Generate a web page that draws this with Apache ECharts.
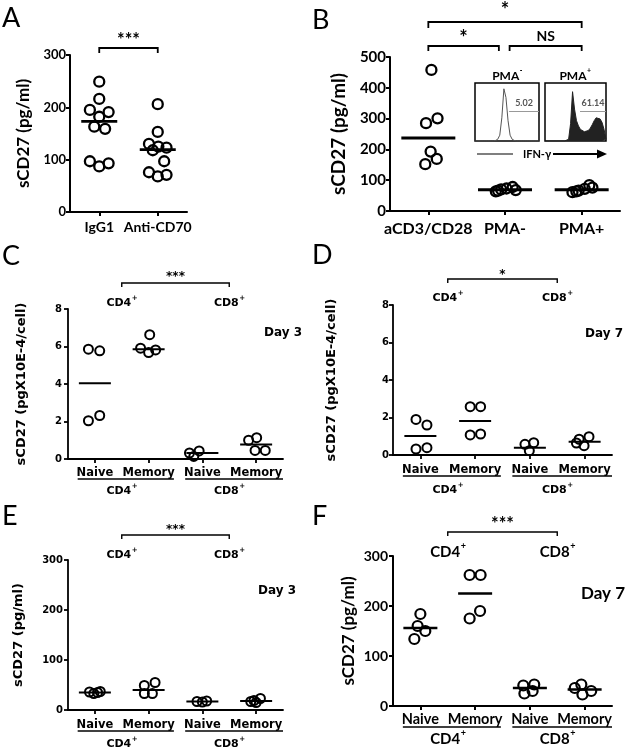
<!DOCTYPE html>
<html><head><meta charset="utf-8">
<script src="https://cdn.jsdelivr.net/npm/echarts@6/dist/echarts.min.js"></script>
<style>html,body{margin:0;padding:0;background:#fff}#c{width:625px;height:750px}</style>
</head><body><div id="c"></div><script>
// ================= DATA =================
// Panel A
const aCategories = ['IgG1', 'Anti-CD70'];
const aIgG1 = [249, 216, 195, 191, 182, 163, 159, 97, 87, 93];
const aAntiCD70 = [206, 153, 130, 118, 125, 123, 97, 76, 68, 71];
const aMeans = [173, 119];
const aYTicks = [0, 100, 200, 300];
const aJitter = [[0, 0, -0.16, 0.16, 0, -0.085, 0.1, -0.16, 0, 0.16],
                 [0, 0, -0.15, -0.085, 0.01, 0.15, 0.11, -0.15, 0, 0.15]];
// Panel B
const bCategories = ['aCD3/CD28', 'PMA-', 'PMA+'];
const bCD3CD28 = [458, 301, 285, 193, 152, 169];
const bPMAminus = [64, 70, 73, 78, 68, 66];
const bPMAplus = [61, 66, 72, 84, 76, 64];
const bMeans = [237, 69, 69];
const bYTicks = [0, 100, 200, 300, 400, 500];
const bJitter = [[0.04, 0.12, -0.03, 0.03, -0.04, 0.11],
                 [-0.12, -0.05, 0.02, 0.1, 0.14, -0.09],
                 [-0.12, -0.04, 0.04, 0.1, 0.14, -0.07]];
// Inset histograms (IFN-gamma), relative counts per bin
const histPMAminus = [0,0,0,0,0,0,0,0,0,0,1,3,10,40,90,75,35,10,3,1,0,0,0,0,0,0,0,0,0,0,0,0];
const histPMAplus  = [0,0,0,0,0,0,0,0,0,0,0,0,3,30,85,55,35,26,20,17,16,16,18,22,28,35,40,42,38,32,20,3];
const gatePMAminus = '5.02';
const gatePMAplus = '61.14';
// Shared categories for C-F
const cellCategories = ['Naive', 'Memory', 'Naive', 'Memory'];
const cellGroups = ['CD4', 'CD8'];
// Panel C (Day 3, pgX10E-4/cell)
const cNaiveCD4 = [5.86, 5.77, 2.04, 2.32];
const cMemoryCD4 = [6.63, 5.91, 5.68, 5.82];
const cNaiveCD8 = [0.32, 0.43, 0.14];
const cMemoryCD8 = [1.0, 1.14, 0.46, 0.46];
const cMeans = [4.04, 5.86, 0.32, 0.77];
const cYTicks = [0, 2, 4, 6, 8];
const cJitter = [[-0.12, 0.09, -0.12, 0.09], [0.02, -0.15, 0, 0.13], [-0.24, -0.06, -0.16], [-0.14, 0.01, -0.02, 0.17]];
// Panel D (Day 7, pgX10E-4/cell)
const dNaiveCD4 = [1.90, 1.60, 0.32, 0.39];
const dMemoryCD4 = [2.58, 2.58, 1.07, 1.12];
const dNaiveCD8 = [0.57, 0.66, 0.23];
const dMemoryCD8 = [0.84, 0.98, 0.5, 0.64];
const dMeans = [1.01, 1.81, 0.39, 0.71];
const dYTicks = [0, 2, 4, 6, 8];
const dJitter = [[-0.08, 0.12, -0.08, 0.12], [-0.09, 0.1, -0.09, 0.1], [-0.09, 0.07, -0.01], [-0.1, 0.08, -0.01, -0.15]];
// Panel E (Day 3, pg/ml)
const eNaiveCD4 = [36, 33, 35, 37];
const eMemoryCD4 = [49, 55, 33, 33];
const eNaiveCD8 = [17, 16, 18];
const eMemoryCD8 = [17, 23, 15, 19];
const eMeans = [35, 40, 17, 18];
const eYTicks = [0, 100, 200, 300];
const eJitter = [[-0.1, -0.02, 0.05, 0.1], [-0.08, 0.12, -0.08, 0.07], [-0.1, 0, 0.08], [-0.1, 0.08, 0, -0.04]];
// Panel F (Day 7, pg/ml)
const fNaiveCD4 = [184, 160, 150, 134];
const fMemoryCD4 = [262, 262, 175, 190];
const fNaiveCD8 = [41, 43, 25, 30];
const fMemoryCD8 = [43, 30, 23, 36];
const fMeans = [156, 225, 36, 33];
const fYTicks = [0, 100, 200, 300];
const fJitter = [[0, -0.05, 0.09, -0.11], [-0.1, 0.1, -0.1, 0.09], [-0.12, 0.08, -0.1, 0.05], [-0.06, 0.12, -0.04, -0.18]];

// ================= STYLE / LAYOUT =================
const FC = 'Lato, "Open Sans", sans-serif';
const FM = '"DejaVu Sans", sans-serif';
const LAYOUT = [
  {left: 70, top: 55, width: 117, height: 157},
  {left: 390, top: 57, width: 230, height: 154},
  {left: 68, top: 309, width: 215, height: 150},
  {left: 393, top: 305, width: 219, height: 150},
  {left: 68, top: 560, width: 215, height: 150},
  {left: 393, top: 556, width: 219, height: 150}
];
const option = {animation: false, backgroundColor: '#fff', grid: [], xAxis: [], yAxis: [], series: []};

function addPanel(gi, cfg) {
  const n = cfg.cats.length;
  const idx = cfg.cats.map((_, k) => k);
  option.grid.push(Object.assign({}, LAYOUT[gi]));
  option.xAxis.push({
    gridIndex: gi, type: 'value', min: -0.5, max: n - 0.5,
    splitLine: {show: false},
    axisLine: {show: true, onZero: false, lineStyle: {color: '#000', width: cfg.axisW}},
    axisTick: {show: true, customValues: idx, length: 4, lineStyle: {color: '#000', width: cfg.axisW}},
    axisLabel: {show: true, customValues: idx, formatter: v => cfg.cats[Math.round(v)],
      margin: cfg.xMargin, color: '#000', fontFamily: cfg.font, fontWeight: 'bold', fontSize: cfg.xFont}
  });
  const yt = cfg.yTicks;
  option.yAxis.push({
    gridIndex: gi, type: 'value', min: yt[0], max: yt[yt.length - 1], interval: yt[1] - yt[0],
    splitLine: {show: false},
    axisLine: {show: true, onZero: false, lineStyle: {color: '#000', width: cfg.axisW}},
    axisTick: {show: true, length: 4, lineStyle: {color: '#000', width: cfg.axisW}},
    axisLabel: {margin: cfg.yMargin, color: '#000', fontFamily: cfg.font, fontWeight: 'bold', fontSize: cfg.yFont},
    name: cfg.yName, nameLocation: 'middle', nameGap: cfg.nameGap, nameRotate: 90,
    nameTextStyle: {color: '#000', fontFamily: cfg.font, fontWeight: 'bold', fontSize: cfg.nameFont}
  });
  const pts = [];
  cfg.groups.forEach((vals, k) => vals.forEach((v, j) => pts.push([k + cfg.jitter[k][j], v])));
  option.series.push({
    type: 'scatter', xAxisIndex: gi, yAxisIndex: gi, data: pts, symbol: 'circle', symbolSize: cfg.sym,
    itemStyle: {color: 'rgba(0,0,0,0)', borderColor: '#000', borderWidth: cfg.symW, opacity: 1}, z: 3, silent: true
  });
  const hw = cfg.meanHalf, lw = cfg.meanW;
  option.series.push({
    type: 'custom', xAxisIndex: gi, yAxisIndex: gi, data: cfg.means.map((m, k) => [k, m]), z: 4, silent: true,
    renderItem: (params, api) => {
      const c = api.coord([api.value(0), api.value(1)]);
      return {type: 'line', shape: {x1: c[0] - hw, y1: c[1], x2: c[0] + hw, y2: c[1]}, style: {stroke: '#000', lineWidth: lw}};
    }
  });
}

addPanel(0, {cats: aCategories, groups: [aIgG1, aAntiCD70], jitter: aJitter, means: aMeans, yTicks: aYTicks,
  font: FC, axisW: 2, xMargin: 8, xFont: 14, yMargin: 4, yFont: 13, yName: 'sCD27 (pg/ml)', nameGap: 38, nameFont: 17,
  sym: 10, symW: 2.3, meanHalf: 18, meanW: 2.7});
addPanel(1, {cats: bCategories, groups: [bCD3CD28, bPMAminus, bPMAplus], jitter: bJitter, means: bMeans, yTicks: bYTicks,
  font: FC, axisW: 2, xMargin: 10, xFont: 16, yMargin: 4, yFont: 15, yName: 'sCD27 (pg/ml)', nameGap: 42, nameFont: 19,
  sym: 10, symW: 2.3, meanHalf: 27, meanW: 3.2});
addPanel(2, {cats: cellCategories, groups: [cNaiveCD4, cMemoryCD4, cNaiveCD8, cMemoryCD8], jitter: cJitter, means: cMeans, yTicks: cYTicks,
  font: FM, axisW: 1.8, xMargin: 8, xFont: 11.5, yMargin: 6, yFont: 10, yName: 'sCD27 (pgX10E-4/cell)', nameGap: 40, nameFont: 13,
  sym: 9, symW: 2, meanHalf: 16, meanW: 2});
addPanel(3, {cats: cellCategories, groups: [dNaiveCD4, dMemoryCD4, dNaiveCD8, dMemoryCD8], jitter: dJitter, means: dMeans, yTicks: dYTicks,
  font: FM, axisW: 1.8, xMargin: 9, xFont: 11.5, yMargin: 4, yFont: 10, yName: 'sCD27 (pgX10E-4/cell)', nameGap: 55, nameFont: 13,
  sym: 9, symW: 2, meanHalf: 16, meanW: 2});
addPanel(4, {cats: cellCategories, groups: [eNaiveCD4, eMemoryCD4, eNaiveCD8, eMemoryCD8], jitter: eJitter, means: eMeans, yTicks: eYTicks,
  font: FM, axisW: 1.8, xMargin: 9, xFont: 11.5, yMargin: 5, yFont: 10, yName: 'sCD27 (pg/ml)', nameGap: 43, nameFont: 13,
  sym: 9, symW: 2, meanHalf: 16, meanW: 2});
addPanel(5, {cats: cellCategories, groups: [fNaiveCD4, fMemoryCD4, fNaiveCD8, fMemoryCD8], jitter: fJitter, means: fMeans, yTicks: fYTicks,
  font: FC, axisW: 2, xMargin: 6, xFont: 14.5, yMargin: 5, yFont: 14, yName: 'sCD27 (pg/ml)', nameGap: 36, nameFont: 17,
  sym: 10, symW: 2.2, meanHalf: 17, meanW: 2.3});

// Inset histograms
function addHist(gi, rect, hist, gateStart, gateLabel, filled) {
  option.grid.push(Object.assign({show: true, borderColor: '#000', borderWidth: 1.5, backgroundColor: '#fff', z: 5}, rect));
  option.xAxis.push({gridIndex: gi, type: 'value', min: 0, max: hist.length - 1, show: false});
  option.yAxis.push({gridIndex: gi, type: 'value', min: 0, max: 100, show: false});
  option.series.push({
    type: 'line', xAxisIndex: gi, yAxisIndex: gi, data: hist.map((v, k) => [k, v]), symbol: 'none', z: 6, silent: true,
    lineStyle: {color: filled ? '#222' : '#555', width: 1},
    areaStyle: filled ? {color: '#222', opacity: 1} : undefined,
    markLine: {silent: true, symbol: 'none', z: 7,
      lineStyle: {color: '#999', width: 1, type: 'solid'},
      label: {show: true, position: 'insideMiddleTop', formatter: gateLabel, color: '#555', fontFamily: FC, fontWeight: 'bold', fontSize: 9, distance: 3},
      data: [[{coord: [gateStart, 52]}, {coord: [hist.length - 1, 52]}]]}
  });
}
addHist(6, {left: 475, top: 83, width: 64, height: 58}, histPMAminus, 16.5, gatePMAminus, false);
addHist(7, {left: 545, top: 83, width: 61, height: 58}, histPMAplus, 17.8, gatePMAplus, true);

const chart = echarts.init(document.getElementById('c'));
chart.setOption(option);

// ================= ANNOTATIONS =================
const mctx = document.createElement('canvas').getContext('2d');
function tw(t, font, size) { mctx.font = 'bold ' + size + 'px ' + font; return mctx.measureText(t).width; }
function px(g, x) { return chart.convertToPixel({gridIndex: g}, [x, 0])[0]; }
const G = [];
function txt(x, y, t, font, size, align, extra) {
  G.push({type: 'text', z: 20, silent: true, style: Object.assign({x, y, text: t, fill: '#000', fontFamily: font, fontWeight: 'bold', fontSize: size, align: align || 'center', verticalAlign: 'middle'}, extra || {})});
}
function supTxt(x, y, base, sup, font, size) {
  const ss = Math.round(size * 0.62);
  const w1 = tw(base, font, size), w2 = tw(sup, font, ss);
  const x0 = x - (w1 + w2) / 2;
  txt(x0, y, base, font, size, 'left');
  txt(x0 + w1 + 0.5, y - size * 0.42, sup, font, ss, 'left');
}
function bracket(x1, x2, y, drop, w) {
  G.push({type: 'polyline', z: 20, silent: true, shape: {points: [[x1, y + drop], [x1, y], [x2, y], [x2, y + drop]]}, style: {stroke: '#000', lineWidth: w, fill: null}});
}
function hline(x1, x2, y, w) {
  G.push({type: 'line', z: 20, silent: true, shape: {x1, y1: y, x2, y2: y}, style: {stroke: '#000', lineWidth: w}});
}
function panelLetter(x, y, t) { txt(x, y, t, FC, 27, 'left', {fontWeight: 'normal'}); }

panelLetter(2, 18, 'A'); panelLetter(312, 20, 'B');
panelLetter(2, 256, 'C'); panelLetter(312, 255, 'D');
panelLetter(2, 516, 'E'); panelLetter(312, 516, 'F');

// A
bracket(px(0, 0), px(0, 1), 48, 5, 1.8);
txt((px(0, 0) + px(0, 1)) / 2, 40, '***', FC, 18);
// B
bracket(px(1, 0), px(1, 2), 22, 6, 1.8);
txt(px(1, 1), 11, '*', FC, 20);
bracket(px(1, 0), px(1, 0.92), 46, 5, 1.8);
bracket(px(1, 1.06), px(1, 2), 46, 5, 1.8);
txt((px(1, 0) + px(1, 0.92)) / 2, 39, '*', FC, 20);
txt((px(1, 1.06) + px(1, 2)) / 2, 36, 'NS', FC, 14);
// inset captions
supTxt(507, 76, 'PMA', '-', FC, 12);
supTxt(575, 76, 'PMA', '+', FC, 12);
hline(477, 513, 154, 1.2);
txt(537, 154, 'IFN-γ', FC, 11);
hline(553, 600, 154, 2);
G.push({type: 'polygon', z: 20, silent: true, shape: {points: [[597, 149.5], [607, 154], [597, 158.5]]}, style: {fill: '#000'}});

// C-F
const cellPanels = [
  {g: 2, br: 283, star: '***', sy: 277, top: 303, under: 479, bottom: 491, day: 'Day 3', dx: 283, dy: 333, font: FM, size: 11, dsize: 12, align: 'center', ssize: 12},
  {g: 3, br: 279, star: '*', sy: 275, top: 298, under: 476, bottom: 490, day: 'Day 7', dx: 623, dy: 334, font: FM, size: 11, dsize: 12, align: 'right', ssize: 12},
  {g: 4, br: 535, star: '***', sy: 530, top: 555, under: 731, bottom: 744, day: 'Day 3', dx: 277, dy: 591, font: FM, size: 11, dsize: 12, align: 'center', ssize: 12},
  {g: 5, br: 532, star: '***', sy: 524, top: 552, under: 727, bottom: 739, day: 'Day 7', dx: 603, dy: 594, font: FC, size: 15, dsize: 17, align: 'center', ssize: 18}
];
cellPanels.forEach(p => {
  const l = px(p.g, 0.5), r = px(p.g, 2.5);
  bracket(l, r, p.br, 4, 1.4);
  txt((l + r) / 2, p.sy, p.star, p.font, p.ssize);
  supTxt(l, p.top, cellGroups[0], '+', p.font, p.size);
  supTxt(r, p.top, cellGroups[1], '+', p.font, p.size);
  hline(px(p.g, -0.32), px(p.g, 1.47), p.under, 1.3);
  hline(px(p.g, 1.68), px(p.g, 3.5), p.under, 1.3);
  supTxt((px(p.g, 0) + px(p.g, 1)) / 2, p.bottom, cellGroups[0], '+', p.font, p.size);
  supTxt((px(p.g, 2) + px(p.g, 3)) / 2, p.bottom, cellGroups[1], '+', p.font, p.size);
  txt(p.dx, p.dy, p.day, p.font, p.dsize, p.align);
});
chart.setOption({graphic: {elements: G}});
</script></body></html>
